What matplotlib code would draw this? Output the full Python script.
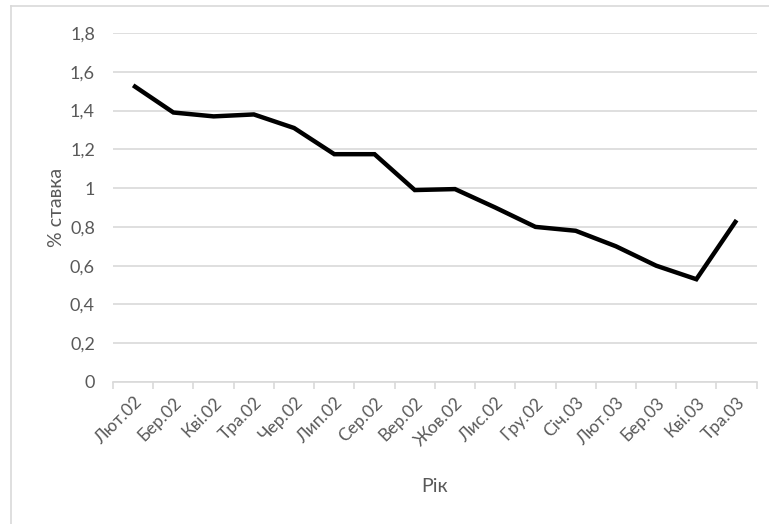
import numpy as np
import matplotlib.pyplot as plt
from matplotlib.ticker import FixedLocator, FuncFormatter
from matplotlib.lines import Line2D

# місяці та облікова ставка, %
months = ["Лют.02", "Бер.02", "Кві.02", "Тра.02", "Чер.02", "Лип.02", "Сер.02", "Вер.02",
          "Жов.02", "Лис.02", "Гру.02", "Січ.03", "Лют.03", "Бер.03", "Кві.03", "Тра.03"]
rate = [1.53, 1.39, 1.37, 1.38, 1.31, 1.175, 1.175, 0.99,
        0.995, 0.90, 0.80, 0.78, 0.70, 0.60, 0.53, 0.835]
y_ticks = [0, 0.2, 0.4, 0.6, 0.8, 1.0, 1.2, 1.4, 1.6, 1.8]

plt.rcParams['font.family'] = ['Lato', 'DejaVu Sans']
grey_txt = '#595959'
grey_line = '#d9d9d9'

fig = plt.figure(figsize=(7.69, 5.24), dpi=100)
ax = fig.add_axes([0.147, 0.271, 0.837, 0.666])

x = np.arange(len(months))
ax.plot(x, rate, color='black', lw=3.2, solid_joinstyle='miter', solid_capstyle='butt', zorder=3)

ax.set_xlim(-0.5, len(months) - 0.5)
ax.set_ylim(0, 1.8)
ax.set_yticks(y_ticks)
ax.yaxis.set_major_formatter(FuncFormatter(lambda v, p: f"{v:g}".replace('.', ',')))
ax.grid(axis='y', color=grey_line, lw=1.2)
ax.set_axisbelow(True)

ax.set_xticks(x)
ax.set_xticklabels(months, rotation=45, ha='right', rotation_mode='anchor')
ax.xaxis.set_minor_locator(FixedLocator(np.arange(-0.5, len(months), 1)))
ax.tick_params(axis='x', which='major', length=0, pad=9, labelsize=12.5, labelcolor=grey_txt)
ax.tick_params(axis='x', which='minor', length=5, width=1.2, color=grey_line)
ax.tick_params(axis='y', length=0, pad=13, labelsize=13, labelcolor=grey_txt)

for s in ['top', 'right', 'left']:
    ax.spines[s].set_visible(False)
ax.spines['bottom'].set_color(grey_line)
ax.spines['bottom'].set_linewidth(1.2)

ax.set_ylabel('% ставка', fontsize=14, color=grey_txt)
ax.yaxis.set_label_coords(-0.075, 0.5)
ax.set_xlabel('Рік', fontsize=14, color=grey_txt)
ax.xaxis.set_label_coords(0.5, -0.275)

# рамка області діаграми
fig.add_artist(Line2D([11 / 769, 11 / 769], [0, 1 - 6 / 524], transform=fig.transFigure,
                      color=grey_line, lw=1.2))
fig.add_artist(Line2D([11 / 769, 1], [1 - 6 / 524, 1 - 6 / 524], transform=fig.transFigure,
                      color=grey_line, lw=1.2))

fig.savefig('out.png', dpi=100)
